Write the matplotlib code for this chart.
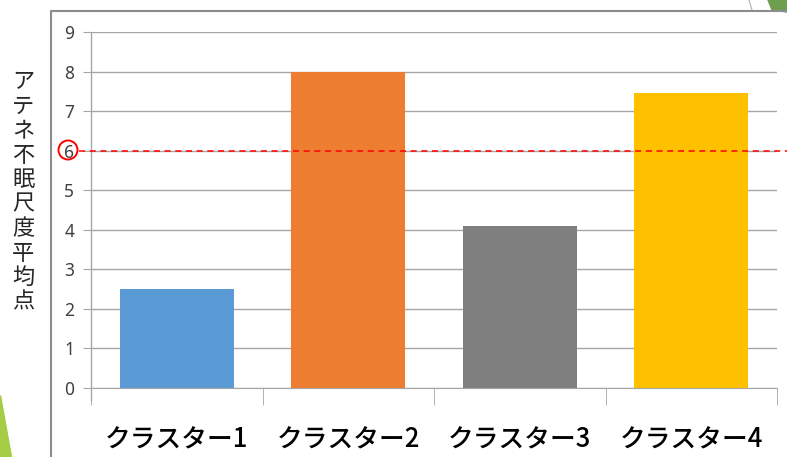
import matplotlib
matplotlib.use('Agg')
import matplotlib.pyplot as plt
from matplotlib.patches import Circle, Polygon
from matplotlib.lines import Line2D

plt.rcParams['font.family'] = ['Noto Sans CJK JP', 'DejaVu Sans']

clusters = ['クラスター1', 'クラスター2', 'クラスター3', 'クラスター4']
scores = [2.5, 8.0, 4.1, 7.45]
bar_colors = ['#5B9BD5', '#ED7D31', '#7F7F7F', '#FFC000']
y_label = 'アテネ不眠尺度平均点'
cutoff = 6

W, H = 787, 457
fig = plt.figure(figsize=(W / 100, H / 100), dpi=100)

# slide decorations behind the chart
fig.patches.append(Polygon([[0, (H - 395) / H], [0, 0], [11 / W, 0]], closed=True,
                           transform=fig.transFigure, color='#A4CC44', zorder=0))
fig.patches.append(Polygon([[768 / W, 1], [1, 1], [1, 1 - 12 / H], [772 / W, 1 - 10 / H]],
                           closed=True, transform=fig.transFigure, color='#6E9E4E', zorder=0))
fig.lines.append(Line2D([749 / W, 752 / W], [1, 1 - 10 / H], transform=fig.transFigure,
                        color='#b0b0b0', lw=0.8))
# chart frame
fig.lines.append(Line2D([51 / W, 51 / W, 1], [0, 1 - 11 / H, 1 - 11 / H],
                        transform=fig.transFigure, color='#8c8c8c', lw=1.5))

ax = fig.add_axes([91 / W, (H - 388) / H, (777 - 91) / W, (388 - 32) / H])
x = range(len(clusters))
ax.bar(x, scores, width=0.667, color=bar_colors, zorder=2)

ax.set_xlim(-0.5, len(clusters) - 0.5)
ax.set_ylim(0, 9)
ax.set_yticks(range(0, 10))
ax.yaxis.grid(True, color='#a6a6a6', lw=1)
ax.set_axisbelow(True)
for s in ['top', 'right', 'left']:
    ax.spines[s].set_visible(False)
ax.spines['bottom'].set_color('#a6a6a6')
ax.tick_params(axis='y', length=6, color='#a6a6a6', labelsize=12.5, labelcolor='#404040', pad=6)
for lbl in ax.get_yticklabels():
    lbl.set_family('Noto Sans')

# category boundaries as long ticks
ax.set_xticks([i - 0.5 for i in range(len(clusters) + 1)], minor=True)
ax.set_xticks(list(x))
ax.tick_params(axis='x', which='minor', length=12, color='#a6a6a6')
ax.tick_params(axis='x', which='major', length=0, pad=28)
ax.set_xticklabels(clusters, fontsize=18.5, fontweight='medium', color='black')
ax.add_line(Line2D([0, 0], [-12 / 356, 1], transform=ax.transAxes,
                   color='#a6a6a6', lw=1, clip_on=False))

# cut-off line and circled tick
ax.axhline(cutoff, xmin=-12 / 686, xmax=(W - 91) / 686, color='#FF0000', lw=1.1,
           ls=(0, (4, 3)), clip_on=False, zorder=3)
fig.patches.append(Circle((68, H - 150), 9.5, transform=None, fill=False,
                          edgecolor='#FF0000', lw=1.4))

fig.text(23 / W, 1 - 192 / H, '\n'.join(y_label), ha='center', va='center',
         fontsize=16, linespacing=1.08, color='#262626')

fig.savefig('out.png', dpi=100)
